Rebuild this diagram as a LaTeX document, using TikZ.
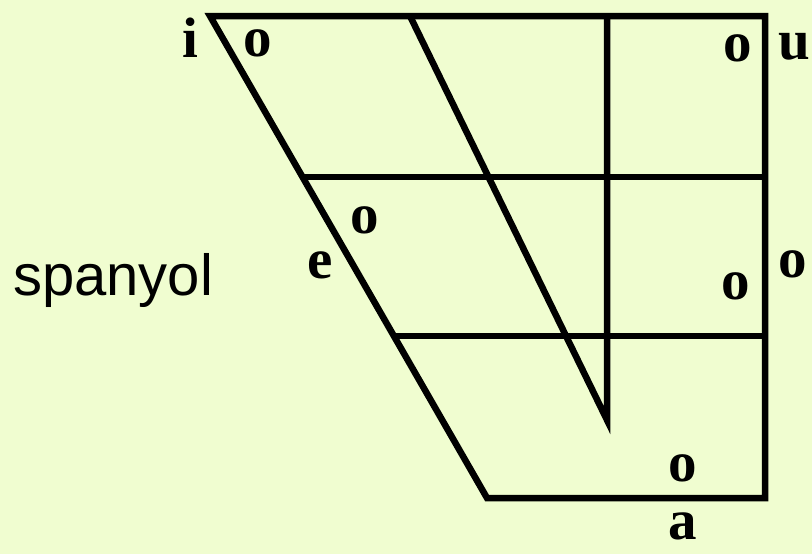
\documentclass[tikz,border=0pt]{standalone}
\usepackage{fontspec}
\setmainfont{Liberation Serif}
\setsansfont{Liberation Sans}
\definecolor{paper}{RGB}{240,253,208}
\tikzset{
  vowel/.style={font=\fontsize{57}{57}\selectfont\bfseries, inner sep=0pt},
}
\begin{document}
\begin{tikzpicture}[x=1pt, y=-1pt, line width=6.5pt, line join=miter]
  \fill[paper] (0,0) rectangle (812,554);
  \useasboundingbox (0,0) rectangle (812,554);
  % corners of the chart
  \coordinate (tl) at (210,16);
  \coordinate (tr) at (765,16);
  \coordinate (br) at (765,498);
  \coordinate (bl) at (487,498);
  \coordinate (dtop) at (410,16);
  \coordinate (vtop) at (607,16);
  \coordinate (vbot) at (607,420);
  \coordinate (hil) at (302.5,177);
  \coordinate (hir) at (765,177);
  \coordinate (hlol) at (394,336);
  \coordinate (hlor) at (765,336);
  \draw (tl) -- (tr) -- (br) -- (bl) -- cycle;
  \draw (dtop) -- (vbot) -- (vtop);
  \draw (hil) -- (hir);
  \draw (hlol) -- (hlor);
  % vowel points
  \node[vowel] (pi) at (258,43) {o};
  \node[vowel] (pu) at (738,48) {o};
  \node[vowel] (pe) at (365,220) {o};
  \node[vowel] (po) at (736,286) {o};
  \node[vowel] (pa) at (683,468) {o};
  % labels
  \node[vowel] (li) at (190,38) {i};
  \node[vowel] (lu) at (794,47) {u};
  \node[vowel] (le) at (320,265) {e};
  \node[vowel] (lo) at (793,264) {o};
  \node[vowel] (la) at (683,526) {a};
  \node[font=\sffamily\fontsize{58}{58}\selectfont, inner sep=0pt, anchor=base] (lang) at (113,295) {spanyol};
\end{tikzpicture}
\end{document}
